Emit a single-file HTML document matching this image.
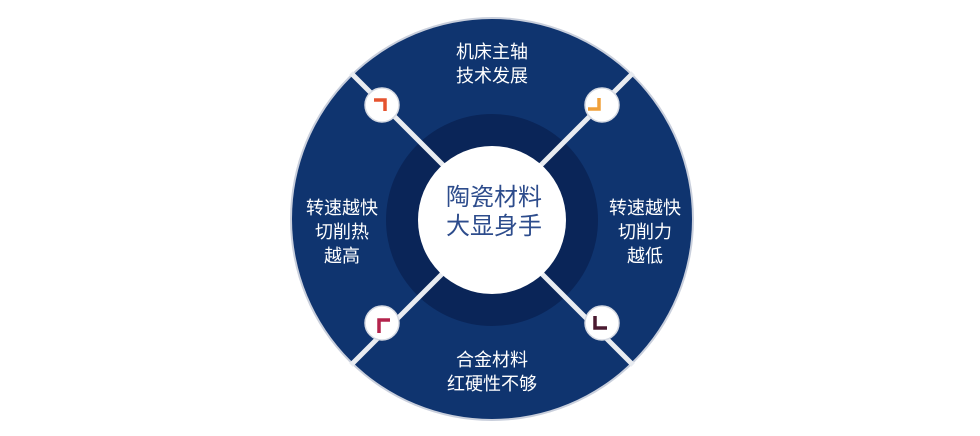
<!DOCTYPE html>
<html><head><meta charset="utf-8"><style>
html,body{margin:0;padding:0;background:#fff;}
svg{display:block}
text{font-family:"Liberation Sans","Noto Sans CJK SC",sans-serif;}
</style></head><body>
<svg width="980" height="436" viewBox="0 0 980 436" xmlns="http://www.w3.org/2000/svg">
<circle cx="492" cy="219" r="202" fill="#c9cfdc"/>
<circle cx="492" cy="219" r="200" fill="#0f346f"/>
<circle cx="492" cy="220" r="106" fill="#0a2558"/>
<g stroke="#e9ecf1" stroke-width="5" stroke-linecap="butt">
<line x1="351" y1="73" x2="460" y2="182"/>
<line x1="633" y1="73" x2="524" y2="182"/>
<line x1="351" y1="365" x2="460" y2="256"/>
<line x1="633" y1="365" x2="524" y2="256"/>
</g>
<circle cx="492" cy="220" r="74" fill="#fff"/>
<g fill="#fff" stroke="#d5d9e2" stroke-width="1.5">
<circle cx="382" cy="105" r="17"/>
<circle cx="602" cy="105" r="17"/>
<circle cx="382" cy="323" r="17"/>
<circle cx="602" cy="323" r="17"/>
</g>
<g fill="none" stroke-width="3.5">
<polyline points="374,100 385,100 385,111" stroke="#e5532f"/>
<polyline points="599,98 599,109 588,109" stroke="#f0a03a"/>
<polyline points="379,333 379,320 390,320" stroke="#b4234c"/>
<polyline points="595,316 595,328 607,328" stroke="#4a1a30"/>
</g>
<g fill="#fff" font-size="18" text-anchor="middle">
<text x="492" y="58">机床主轴</text>
<text x="492" y="82">技术发展</text>
<text x="342" y="214">转速越快</text>
<text x="342" y="238">切削热</text>
<text x="342" y="262">越高</text>
<text x="645" y="214">转速越快</text>
<text x="645" y="238">切削力</text>
<text x="645" y="262">越低</text>
<text x="492" y="366">合金材料</text>
<text x="492" y="390">红硬性不够</text>
</g>
<g fill="#2d4c8c" font-size="24" text-anchor="middle">
<text x="494" y="205">陶瓷材料</text>
<text x="494" y="234">大显身手</text>
</g>
</svg>
</body></html>
